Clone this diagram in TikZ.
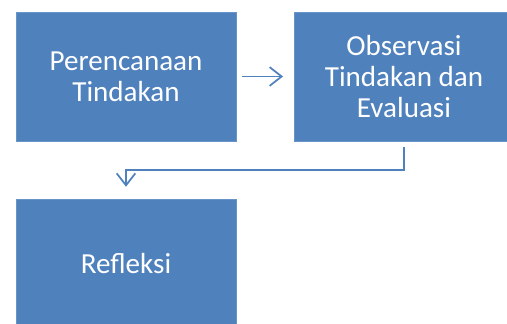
\documentclass[tikz,border=0pt]{standalone}
\usepackage{fontspec}
\setmainfont{Carlito}
\usetikzlibrary{arrows.meta}
\definecolor{boxblue}{RGB}{79,129,189}
\begin{document}
\begin{tikzpicture}[x=0.75pt, y=-0.75pt,
	box/.style={shape=rectangle, draw=boxblue!85!white, line width=0.4pt, fill=boxblue, text=white,
		minimum width=165pt, minimum height=96.75pt, align=center,
		font=\fontsize{21.8}{23.5}\selectfont},
	conn/.style={draw=boxblue, line width=1.3pt, -{Straight Barb[length=9pt, width=14pt, line width=1.3pt]}}]
		\clip (0,0) rectangle (507,324);
		\node (plan) at (126,76.5) [box] {Perencanaan\\Tindakan};
		\node (obs) at (404,76.5) [box] {Observasi\\Tindakan dan\\Evaluasi};
		\node (refl) at (126,263.5) [box] {Refleksi};
		\coordinate (bend) at (126,170);
		\draw[conn, shorten <=4.5pt, shorten >=8pt] (plan.east) -- (obs.west);
		\draw[conn, shorten <=4.5pt, shorten >=9pt] (obs.south) |- (bend) -- (refl.north);
		\end{tikzpicture}
\end{document}
